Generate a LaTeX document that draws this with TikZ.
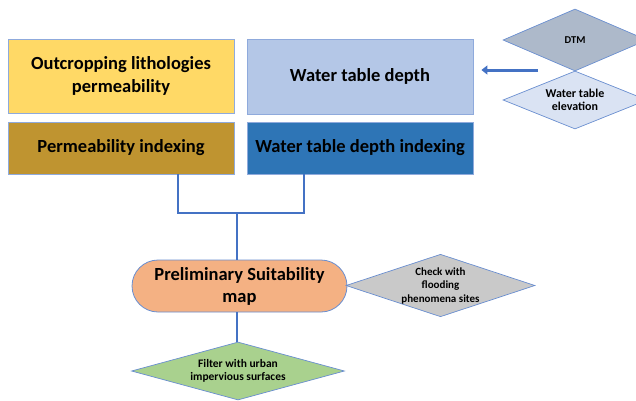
\documentclass[tikz,border=0pt]{standalone}
\usepackage{fontspec}
\setmainfont{Carlito}
\usetikzlibrary{shapes.geometric,arrows.meta}
\definecolor{edgeblue}{HTML}{8FAADC}
\definecolor{linkblue}{HTML}{4472C4}
\definecolor{yel}{HTML}{FFD966}
\definecolor{lblue}{HTML}{B4C7E7}
\definecolor{brn}{HTML}{BF9430}
\definecolor{dblue}{HTML}{2E75B6}
\definecolor{orng}{HTML}{F4B183}
\definecolor{gry}{HTML}{C9C9C9}
\definecolor{grn}{HTML}{A9D18E}
\definecolor{dtm}{HTML}{ADB9CA}
\definecolor{wte}{HTML}{DAE3F3}
\begin{document}
\begin{tikzpicture}[x=1pt,y=-1pt,
  bigbox/.style={draw=edgeblue,line width=0.8pt,minimum width=226pt,inner sep=0pt,align=center,
     font=\fontsize{18.5}{23}\selectfont\bfseries},
  dia/.style={diamond,draw=linkblue!80,line width=0.7pt,inner sep=0pt,aspect=3,align=center,
     font=\fontsize{12}{13}\selectfont\bfseries},
  link/.style={draw=linkblue,line width=1.8pt}]
\useasboundingbox (0,0) rectangle (636,400);
\node[bigbox,fill=yel,minimum height=74pt] (outc) at (121,76) {Outcropping lithologies\\permeability};
\node[bigbox,fill=lblue,minimum height=75pt] (wtd) at (360,76.5) {Water table depth};
\node[bigbox,fill=brn,minimum height=52pt] (perm) at (121,148) {Permeability indexing};
\node[bigbox,fill=dblue,minimum height=52pt] (wtdi) at (360,148) {Water table depth indexing};
\node[draw=linkblue!80,line width=0.8pt,fill=orng,rounded corners=26pt,minimum width=215pt,minimum height=52pt,
  inner sep=0pt,align=center,font=\fontsize{18.5}{22}\selectfont\bfseries] (prel) at (239.5,286) {Preliminary Suitability\\map};
\node[dia,fill=dtm,minimum width=144pt,minimum height=62pt,font=\fontsize{10.5}{13}\selectfont\bfseries] (dtmn) at (575,40) {DTM};
\node[dia,fill=wte,minimum width=144pt,minimum height=58pt] (wten) at (575,100) {Water table\\elevation};
\node[dia,fill=gry,minimum width=189pt,minimum height=61pt,font=\fontsize{11}{13.5}\selectfont\bfseries] (chk) at (440.5,285.5) {Check with\\flooding\\phenomena sites};
\node[dia,fill=grn,minimum width=213pt,minimum height=58pt,font=\fontsize{11.5}{13.5}\selectfont\bfseries] (filt) at (238,371) {Filter with urban\\impervious surfaces};
\coordinate (j1) at (178,213);
\coordinate (j2) at (304,213);
\coordinate (jm) at (237,213);
\coordinate (as) at (538,70);
\draw[link] (perm.south -| j1) -- (j1) -- (j2) -- (wtdi.south -| j2);
\draw[link] (jm) -- (jm |- prel.north);
\draw[link] (prel.south -| jm) -- (filt.north -| jm);
\draw[draw=linkblue,line width=3pt,-{Triangle[length=6pt,width=9pt]}] (as) -- ([xshift=8pt]as -| wtd.east);
\end{tikzpicture}
\end{document}
